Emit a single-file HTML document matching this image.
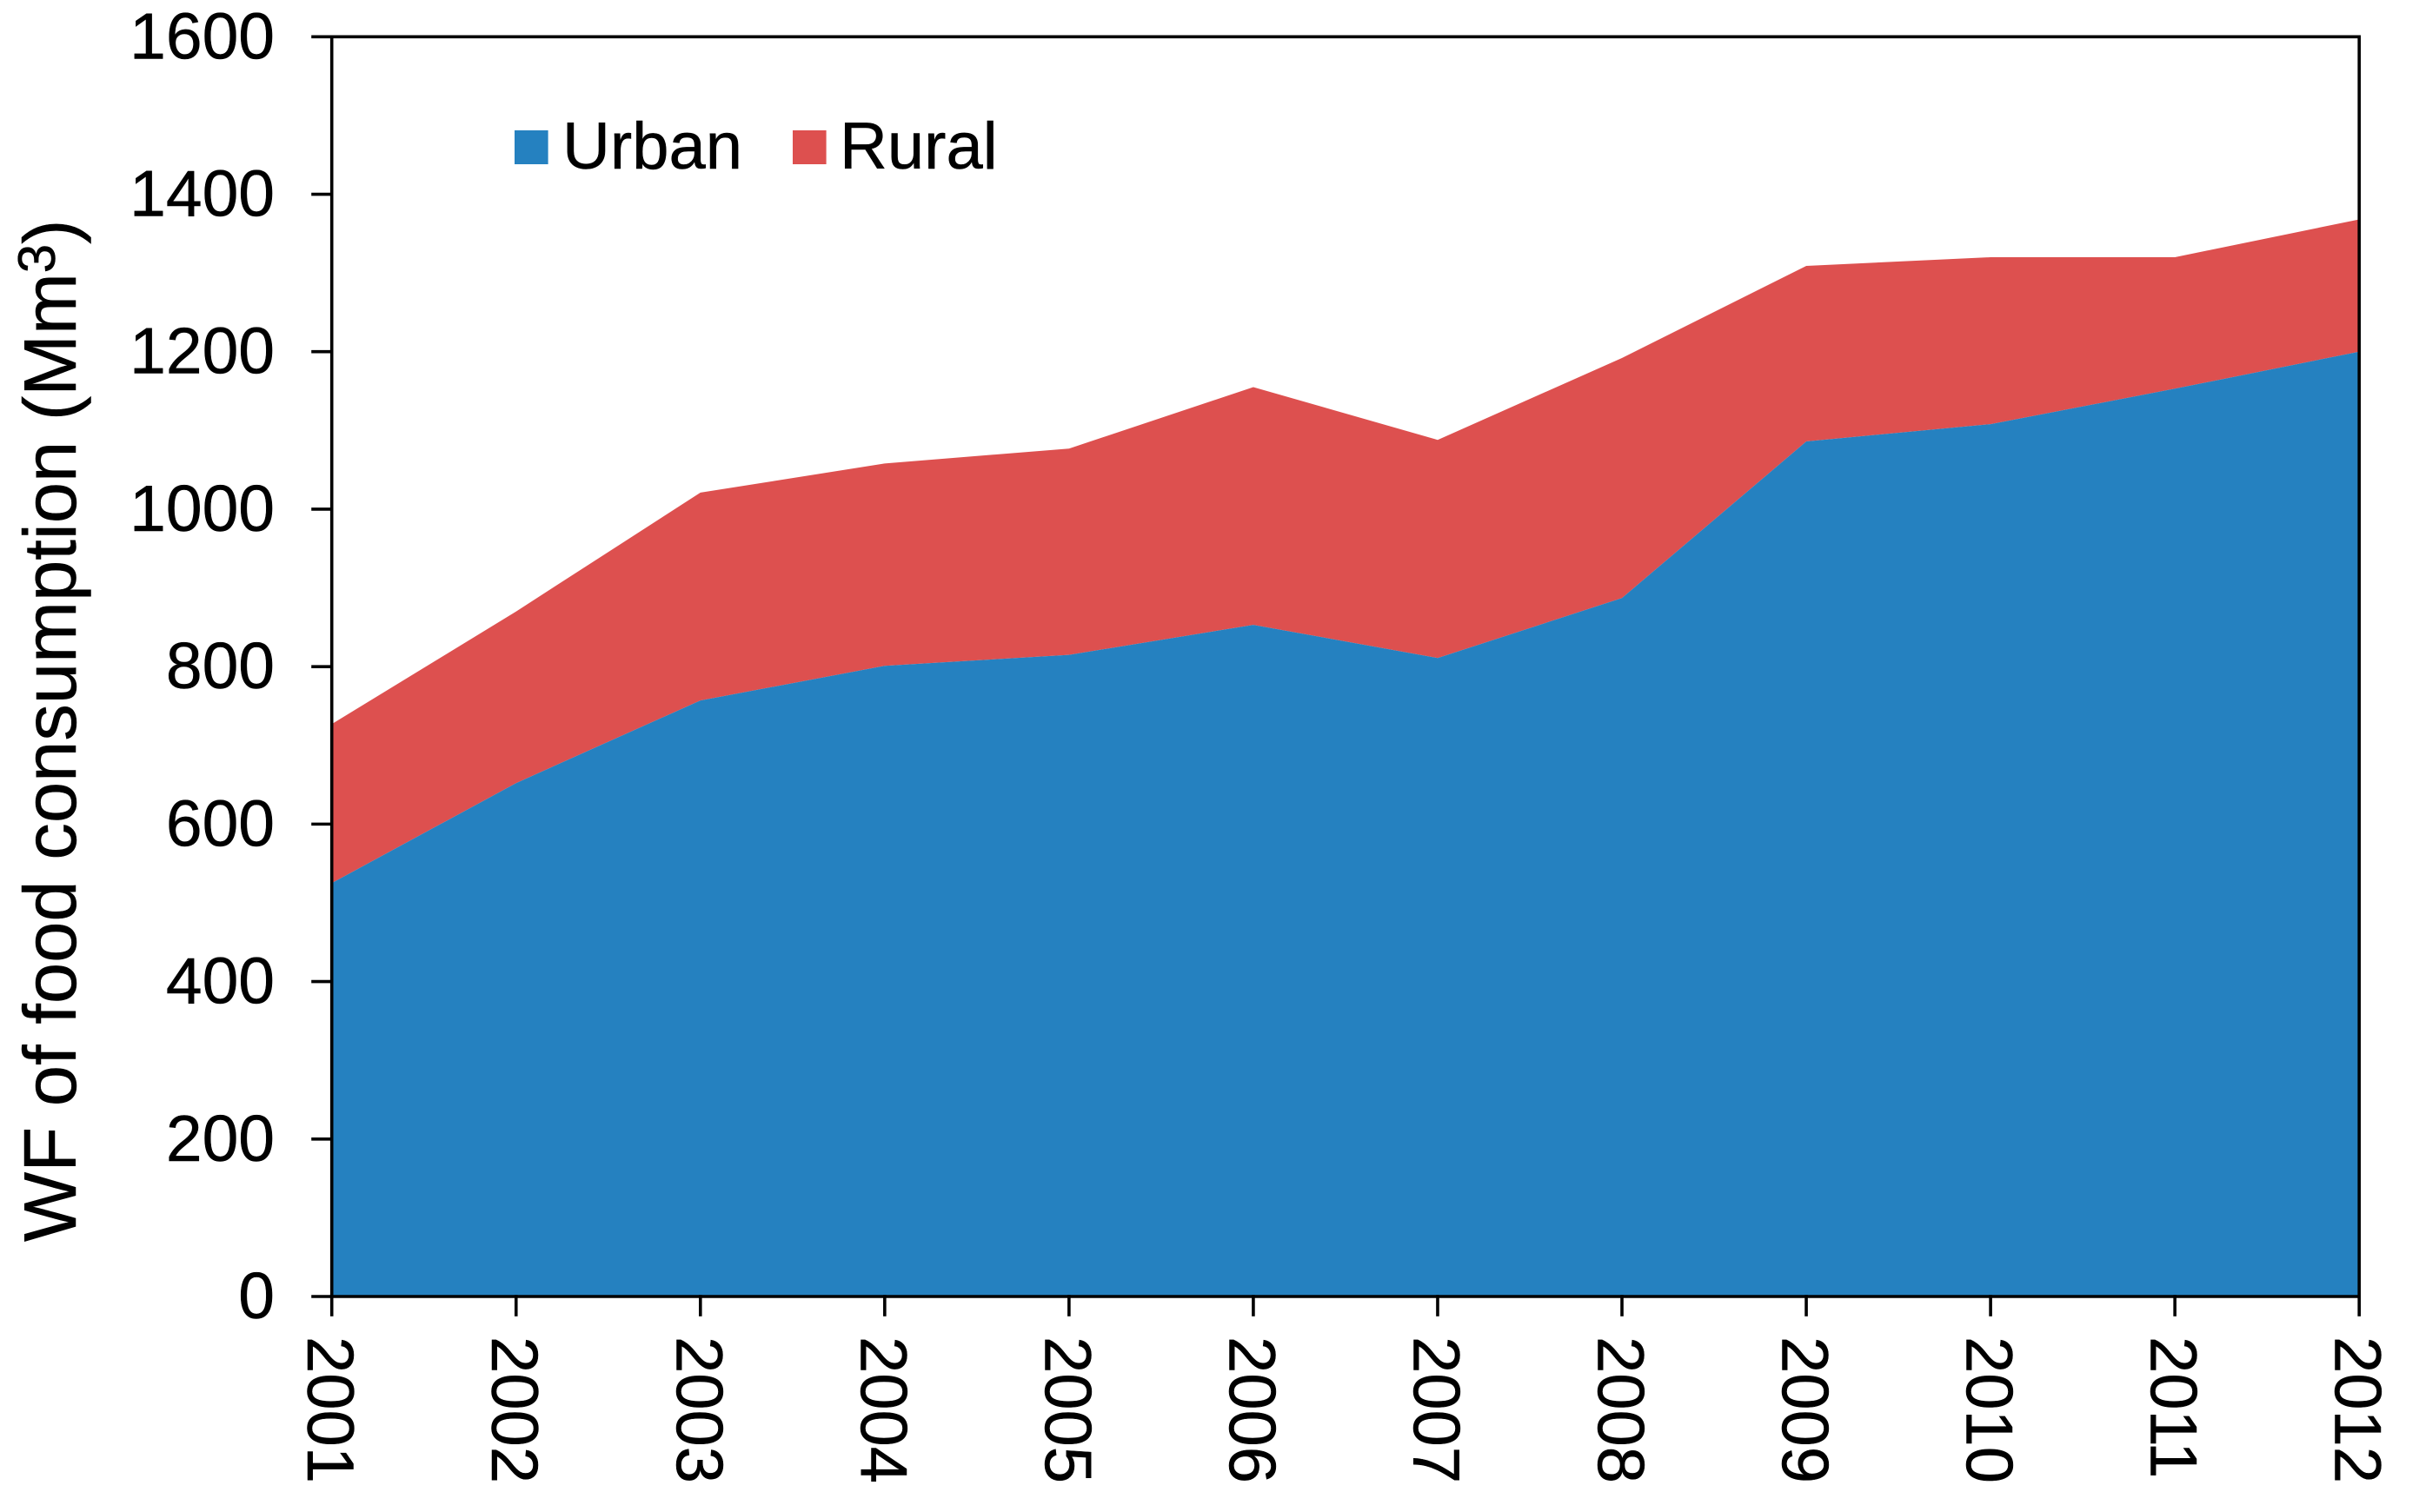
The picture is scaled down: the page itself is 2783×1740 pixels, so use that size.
<!DOCTYPE html>
<html>
<head>
<meta charset="utf-8">
<title>WF of food consumption</title>
<style>
html,body{margin:0;padding:0;background:#fff;width:2783px;height:1740px;overflow:hidden}
svg{display:block}
text{font-family:"Liberation Sans",Arial,sans-serif;fill:#000;stroke:#000;stroke-width:0.5px}
</style>
</head>
<body>
<svg id="chart" xmlns="http://www.w3.org/2000/svg" width="2783" height="1740" viewBox="0 0 2783 1740">
  <rect x="0" y="0" width="2783" height="1740" fill="#ffffff"/>
  <g id="areas"></g>
  <g id="axes"></g>
  <text transform="translate(87,1429) rotate(-90)" font-size="85">WF of food consumption (Mm<tspan font-size="60" dy="-24">3</tspan><tspan dy="24">)</tspan></text>
  <g>
    <rect x="592" y="150" width="38.6" height="39" fill="#2581c0"/>
    <text x="647" y="194" font-size="76">Urban</text>
    <rect x="912" y="150" width="38.6" height="39" fill="#dd504f"/>
    <text x="966" y="194" font-size="76">Rural</text>
  </g>
</svg>
<script>
const years = ["2001","2002","2003","2004","2005","2006","2007","2008","2009","2010","2011","2012"];
const urban = [525,652,757,801,815,853,811,887,1086,1108,1153,1200];
const rural = [202,218,264,257,262,302,277,305,223,212,167,168];
const yTicks = [0,200,400,600,800,1000,1200,1400,1600];

const NS = "http://www.w3.org/2000/svg";
const plot = {left:381.7, right:2714.2, top:42.3, bottom:1492};
const yMax = 1600;
function xScale(i){ return plot.left + i*(plot.right-plot.left)/(years.length-1); }
function yScale(v){ return plot.bottom - v*(plot.bottom-plot.top)/yMax; }

function areaPoints(lower, upper){
  const pts = [];
  upper.forEach(function(v,i){ pts.push(xScale(i).toFixed(1)+","+yScale(v).toFixed(1)); });
  for(let i=lower.length-1;i>=0;i--){ pts.push(xScale(i).toFixed(1)+","+yScale(lower[i]).toFixed(1)); }
  return pts.join(" ");
}
const zeros = urban.map(function(){ return 0; });
const totals = urban.map(function(v,i){ return v+rural[i]; });
const areas = document.getElementById("areas");

const ruralArea = document.createElementNS(NS,"polygon");


ruralArea.setAttribute("points", areaPoints(urban, totals));
ruralArea.setAttribute("fill", "#dd504f");
areas.appendChild(ruralArea);

const urbanArea = document.createElementNS(NS,"polygon");


urbanArea.setAttribute("points", areaPoints(zeros, urban));
urbanArea.setAttribute("fill", "#2581c0");
areas.appendChild(urbanArea);

const axes = document.getElementById("axes");
function line(x1,y1,x2,y2){
  const l = document.createElementNS(NS,"line");
  l.setAttribute("x1",x1); l.setAttribute("y1",y1);
  l.setAttribute("x2",x2); l.setAttribute("y2",y2);
  l.setAttribute("stroke","#000");
  l.setAttribute("stroke-width","3.6");
  l.setAttribute("stroke-linecap","square");
  axes.appendChild(l);
  return l;
}
const frameLeft = line(plot.left,plot.top,plot.left,plot.bottom);


const frameBottom = line(plot.left,plot.bottom,plot.right,plot.bottom);


const frameTop = line(plot.left,plot.top,plot.right,plot.top);


const frameRight = line(plot.right,plot.top,plot.right,plot.bottom);



yTicks.forEach(function(v){
  const t = line(360,yScale(v),plot.left,yScale(v));
  
  
  const lab = document.createElementNS(NS,"text");
  
  
  lab.setAttribute("x", 316);
  lab.setAttribute("y", yScale(v)+25);
  lab.setAttribute("text-anchor","end");
  lab.setAttribute("font-size","75");
  lab.textContent = v;
  axes.appendChild(lab);
});

years.forEach(function(y,i){
  const t = line(xScale(i),plot.bottom,xScale(i),1513);
  
  
  const lab = document.createElementNS(NS,"text");
  
  
  lab.setAttribute("transform","translate("+(xScale(i)-27.5).toFixed(1)+",1538) rotate(90)");
  lab.setAttribute("font-size","76");
  lab.textContent = y;
  axes.appendChild(lab);
});
</script>
</body>
</html>
